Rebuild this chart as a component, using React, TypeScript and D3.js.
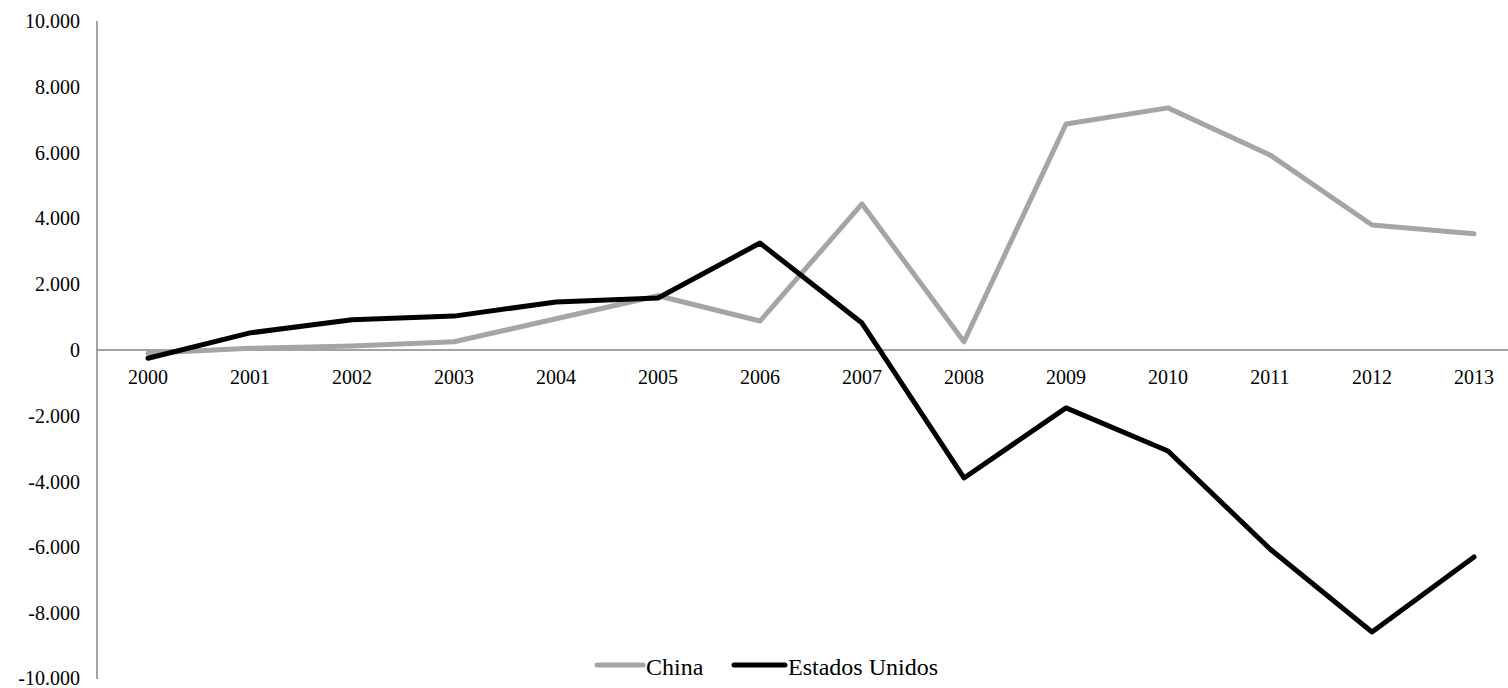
import React from "react";
import * as d3 from "d3";

const years = ["2000","2001","2002","2003","2004","2005","2006","2007","2008","2009","2010","2011","2012","2013"];
const china = [-100, 50, 120, 250, 950, 1650, 880, 4440, 250, 6870, 7360, 5930, 3800, 3530];
const usa = [-250, 520, 920, 1030, 1460, 1580, 3250, 820, -3890, -1760, -3070, -6050, -8570, -6290];
const yTicks = [10000, 8000, 6000, 4000, 2000, 0, -2000, -4000, -6000, -8000, -10000];

const W = 1508, H = 688;
const fmt = (v: number) => {
  const s = d3.format(",")(Math.abs(v)).replace(/,/g, ".");
  return (v < 0 ? "-" : "") + s;
};

export default function App() {
  const x = d3.scaleBand<string>().domain(years).range([97, 97 + 102 * 14]);
  const y = d3.scaleLinear().domain([-10000, 10000]).range([679, 21]);
  const cx = (d: string) => (x(d) as number) + x.bandwidth() / 2;
  const line = d3.line<number>().x((_, i) => cx(years[i])).y((d) => y(d));
  const font = "'Liberation Serif', 'Times New Roman', serif";
  return (
    <svg width={W} height={H} style={{ position: "absolute", left: 0, top: 0, background: "#fff" }} fontFamily={font}>
      <line x1={97} x2={97} y1={y(10000)} y2={y(-10000)} stroke="#868686" strokeWidth={1.5} />
      <line x1={97} x2={W} y1={y(0)} y2={y(0)} stroke="#868686" strokeWidth={1.5} />
      {yTicks.map((t) => (
        <text key={t} x={80} y={t === -10000 ? y(t) - 1 : y(t)} dy="0.35em" textAnchor="end" fontSize={20} fill="#000">{fmt(t)}</text>
      ))}
      {years.map((yr) => (
        <text key={yr} x={cx(yr)} y={384} textAnchor="middle" fontSize={20} fill="#000">{yr}</text>
      ))}
      <path d={line(china) || ""} fill="none" stroke="#A5A5A5" strokeWidth={5} strokeLinejoin="round" strokeLinecap="round" />
      <path d={line(usa) || ""} fill="none" stroke="#000" strokeWidth={5} strokeLinejoin="round" strokeLinecap="round" />
      <g>
        <line x1={597} x2={643} y1={665} y2={665} stroke="#A5A5A5" strokeWidth={5} strokeLinecap="round" />
        <text x={646} y={675} fontSize={24} fill="#000">China</text>
        <line x1={734} x2={785} y1={665} y2={665} stroke="#000" strokeWidth={5} strokeLinecap="round" />
        <text x={788} y={675} fontSize={24} fill="#000">Estados Unidos</text>
      </g>
    </svg>
  );
}
